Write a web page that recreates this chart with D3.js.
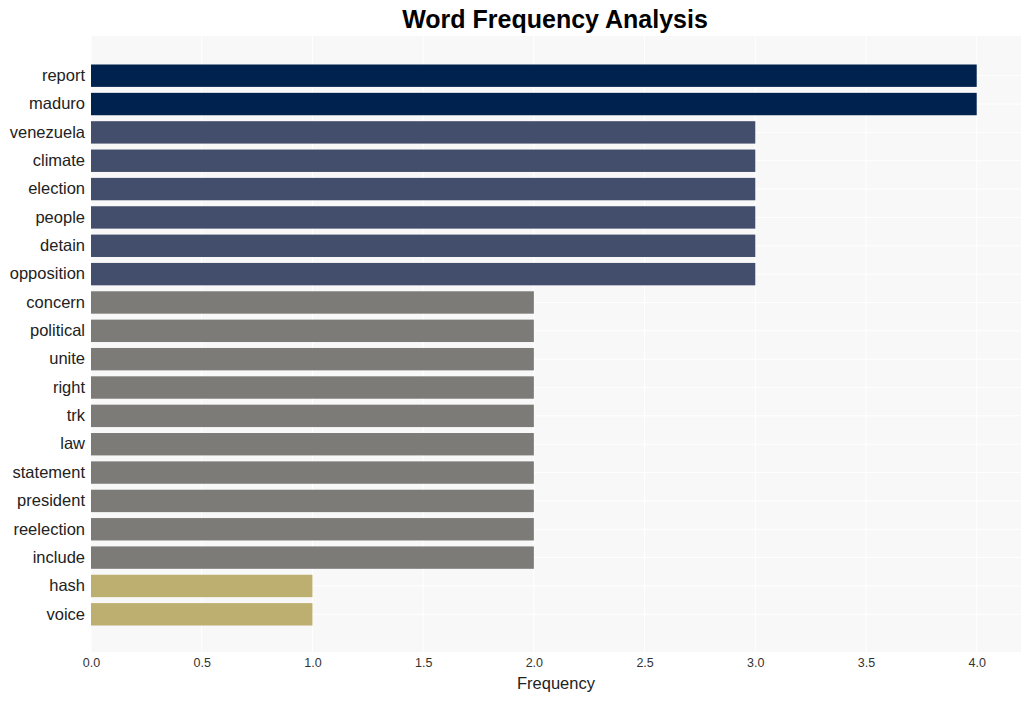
<!DOCTYPE html>
<meta charset="utf-8">
<script src="https://d3js.org/d3.v7.min.js"></script>
<style>
body { margin: 0; background: #fff; }
text { font-family: "Liberation Sans", Arial, sans-serif; }
</style>
<body>
<div id="chart"></div>
<script>

// data
var words = ["report", "maduro", "venezuela", "climate", "election", "people", "detain",
  "opposition", "concern", "political", "unite", "right", "trk", "law", "statement",
  "president", "reelection", "include", "hash", "voice"];
var counts = [4, 4, 3, 3, 3, 3, 3, 3, 2, 2, 2, 2, 2, 2, 2, 2, 2, 2, 1, 1];
var xTicks = [0, 0.5, 1, 1.5, 2, 2.5, 3, 3.5, 4];

var W = 1030, H = 701;
var margin = {left: 91, right: 1021, top: 37, bottom: 653};

var svg = d3.select("#chart").append("svg")
  .attr("width", W)
  .attr("height", H);

var x = d3.scaleLinear().domain([0, 4.2]).range([margin.left, margin.right]);
var y = d3.scaleBand().domain(words).range([margin.top, margin.bottom])
  .paddingInner(0.21).paddingOuter(0.97);

var color = d3.scaleOrdinal()
  .domain([1, 2, 3, 4])
  .range(["#bcaf6f", "#7c7b78", "#434e6c", "#00224e"]);

// panel background
svg.append("rect")
  .attr("x", margin.left).attr("y", margin.top - 1)
  .attr("width", margin.right - margin.left).attr("height", margin.bottom - margin.top)
  .attr("fill", "#f8f8f8");

// grid
svg.append("g").selectAll("line")
  .data(xTicks)
  .enter().append("line")
    .attr("x1", function(d) { return x(d); })
    .attr("x2", function(d) { return x(d); })
    .attr("y1", margin.top - 1).attr("y2", margin.bottom - 1)
    .attr("stroke", "#fff").attr("stroke-width", 1);

svg.append("g").selectAll("line")
  .data(words)
  .enter().append("line")
    .attr("x1", margin.left).attr("x2", margin.right)
    .attr("y1", function(d) { return y(d) + y.bandwidth() / 2; })
    .attr("y2", function(d) { return y(d) + y.bandwidth() / 2; })
    .attr("stroke", "#fff").attr("stroke-width", 1);

// bars
svg.append("g").selectAll("rect")
  .data(words)
  .enter().append("rect")
    .attr("x", x(0))
    .attr("y", function(d) { return y(d); })
    .attr("width", function(d, i) { return x(counts[i]) - x(0); })
    .attr("height", y.bandwidth())
    .attr("fill", function(d, i) { return color(counts[i]); });

// axes
var xAxis = svg.append("g")
  .attr("transform", "translate(0," + (margin.bottom - 1) + ")")
  .call(d3.axisBottom(x).tickValues(xTicks).tickFormat(d3.format(".1f")).tickSize(0).tickPadding(6));
xAxis.select(".domain").remove();
xAxis.selectAll("text").attr("font-size", 12.5).attr("fill", "#333")
  .style("font-family", "'Liberation Sans', Arial, sans-serif");

var yAxis = svg.append("g")
  .attr("transform", "translate(" + margin.left + ",0)")
  .call(d3.axisLeft(y).tickSize(0).tickPadding(6));
yAxis.select(".domain").remove();
yAxis.selectAll("text").attr("font-size", 16.5).attr("fill", "#222")
  .style("font-family", "'Liberation Sans', Arial, sans-serif");

// labels
svg.append("text")
  .attr("x", 556).attr("y", 689)
  .attr("text-anchor", "middle")
  .attr("font-size", 16.5).attr("fill", "#222")
  .text("Frequency");

svg.append("text")
  .attr("x", 555).attr("y", 28)
  .attr("text-anchor", "middle")
  .attr("font-size", 25).attr("font-weight", "bold").attr("fill", "#000")
  .text("Word Frequency Analysis");

</script>
</body>
